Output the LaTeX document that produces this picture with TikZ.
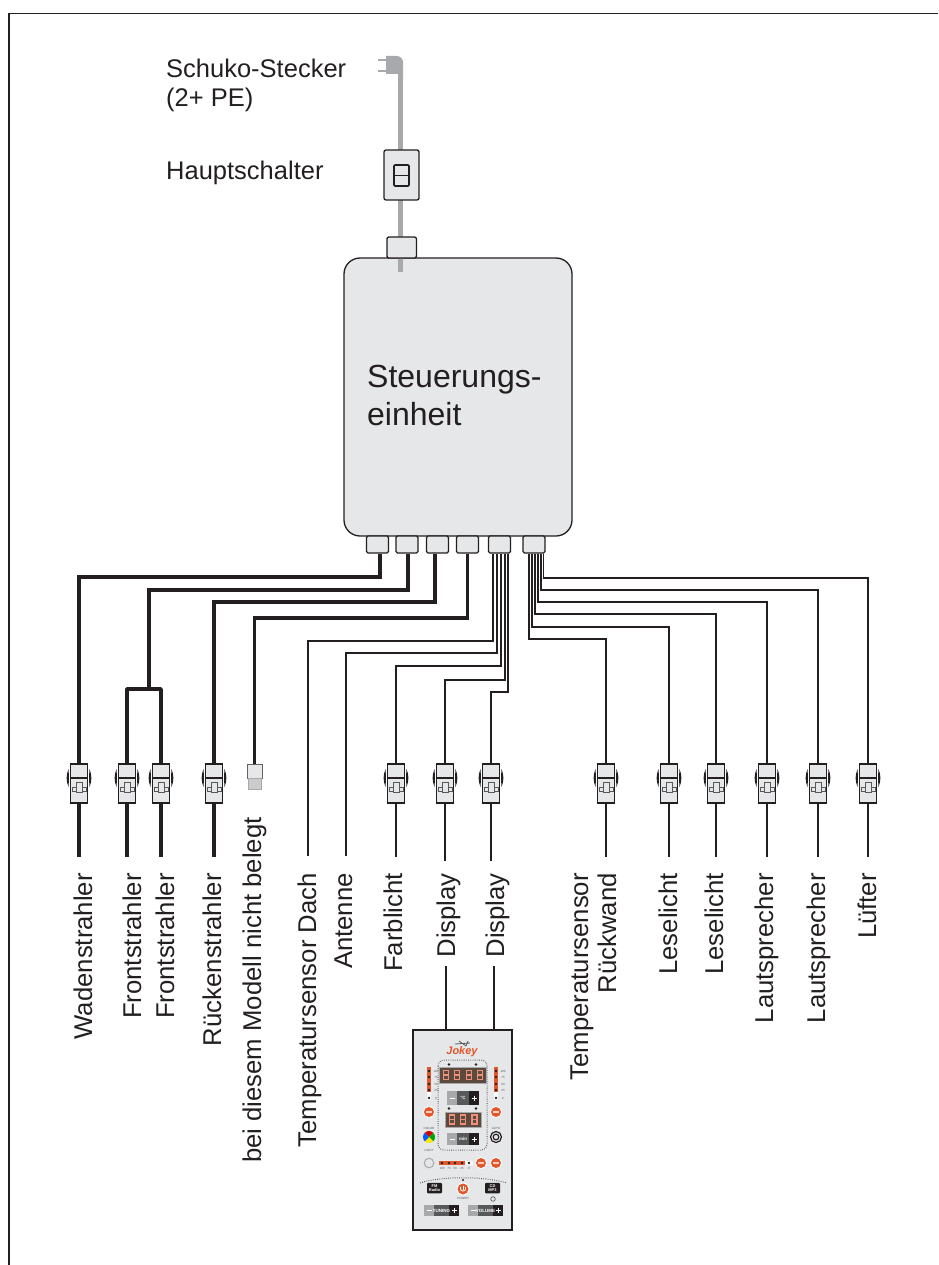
\documentclass[tikz,border=0pt]{standalone}
\usepackage{fontspec}
\setmainfont{Liberation Sans}
\definecolor{ink}{HTML}{231F20}
\definecolor{paneL}{HTML}{E6E7E8}
\definecolor{cord}{HTML}{A7A9AC}
\definecolor{midg}{HTML}{58595B}
\definecolor{orng}{HTML}{E2572B}
\definecolor{dispbg}{HTML}{5C4A3E}
\definecolor{segc}{HTML}{F0907A}
\tikzset{
 every node/.append style={text=ink},
 boxy/.style={draw=ink,fill=paneL,line width=1.3pt,inner sep=0pt},
 portbox/.style={boxy,rectangle,rounded corners=1.5pt,minimum width=22pt,minimum height=17pt},
 connbox/.style={draw=ink,fill=paneL,line width=1.1pt,inner sep=0pt,minimum width=17pt,minimum height=39pt},
 heavy/.style={draw=ink,line width=3.6pt},
 lightw/.style={draw=ink,line width=1.6pt},
 vlabel/.style={rotate=90,anchor=base east,inner sep=0pt,font=\fontsize{25.7}{28}\selectfont},
 hlabel/.style={anchor=base west,inner sep=0pt,font=\fontsize{25.5}{29}\selectfont},
 wee/.style={inner sep=0pt,font=\fontsize{3}{3.5}\selectfont,text=midg},
 btnlabel/.style={inner sep=0pt,text=white},
 disp/.style={fill=dispbg,draw=cord,line width=.8pt},
 seg/.style={draw=segc,line width=1.1pt},
 dotrow/.style={draw=midg,line width=1pt,dash pattern=on .8pt off 1.4pt},
}
\newcommand{\conn}[2]{%
 \node[connbox] (#1) at (#2,783.5) {};
 \draw[ink,line width=1.1pt] (#1.west |- 0,778) -- (#1.east |- 0,778);
 \draw[midg,fill=paneL,line width=.7pt] (#2-7,787) rectangle (#2+7,791);
 \draw[midg,fill=paneL,line width=.7pt] (#2-3,782) rectangle (#2+3,792);
 \fill[ink] (#2-10.5,769) .. controls (#2-13,775) and (#2-13,781) .. (#2-10.5,787) .. controls (#2-10,781) and (#2-10,775) .. cycle;
 \fill[ink] (#2+10.5,769) .. controls (#2+13,775) and (#2+13,781) .. (#2+10.5,787) .. controls (#2+10,781) and (#2+10,775) .. cycle;
}
\newcommand{\digit}[2]{%
 \draw[seg] (#1-2.5,#2-4.5) rectangle (#1+2.5,#2+4.5);
 \draw[seg] (#1-2.5,#2) -- (#1+2.5,#2);
}
\newcommand{\trio}[5]{% x, y top, height, middle text, width
 \fill[cord] (#1,#2) rectangle (#1+10,#2+#3);
 \fill[midg] (#1+10,#2) rectangle (#1+#5-10,#2+#3);
 \fill[ink] (#1+#5-10,#2) rectangle (#1+#5,#2+#3);
 \draw[white,line width=1pt] (#1+2.5,#2+#3/2) -- (#1+7.5,#2+#3/2);
 \draw[white,line width=1pt] (#1+#5-7.5,#2+#3/2) -- (#1+#5-2.5,#2+#3/2) (#1+#5-5,#2+#3/2-2.5) -- (#1+#5-5,#2+#3/2+2.5);
 \node[btnlabel,font=\fontsize{4.5}{5}\bfseries\selectfont] at (#1+#5/2,#2+#3/2) {#4};
}
\begin{document}
\begin{tikzpicture}[x=1pt,y=-1pt]
\useasboundingbox (0,0) rectangle (938,1265);
\draw[ink,line width=1.4pt] (938,13.5) -- (9,13.5) -- (9,1265);

% main unit
\node[boxy,rounded corners=16pt,minimum width=228pt,minimum height=278pt] (main) at (458,397) {};
\node[anchor=west,inner sep=0pt,align=left,font=\fontsize{32}{38}\selectfont] (mainlabel) at (367,395) {Steuerungs-\\einheit};

% mains cord
\draw[fill=cord,draw=none] (386,56) -- (397,56) .. controls (400,56) and (403,59) .. (403,62) -- (403,81) -- (398,81) -- (398,74) -- (386,74) -- cycle;
\coordinate (plug) at (400.5,81);
\draw[cord,line width=1.3pt] (378,60) -- (386,60) (378,71) -- (386,71);
\coordinate (cordend) at (400.5,272);
\draw[cord,line width=5pt] (plug) -- (cordend);
\node[boxy,rounded corners=2pt,minimum width=35pt,minimum height=50pt] (switch) at (401.5,175) {};
\node[draw=ink,line width=1.6pt,rounded corners=1pt,minimum width=15pt,minimum height=21pt,inner sep=0pt] (rocker) at (401.5,175.5) {};
\draw[ink,line width=1.6pt] (rocker.west) -- (rocker.east);
\node[boxy,rectangle,rounded corners=2pt,minimum width=29.5pt,minimum height=21pt] (cap) at (401.7,247.5) {};
\node[hlabel] (schuko) at (166,78) {Schuko-Stecker};
\node[hlabel] (schukob) at (166,107) {(2+ PE)};
\node[hlabel] (haupt) at (166,180) {Hauptschalter};

% ports
\node[portbox] (p1) at (377.5,544.5) {};
\node[portbox] (p2) at (407,544.5) {};
\node[portbox] (p3) at (437.5,544.5) {};
\node[portbox] (p4) at (467.5,544.5) {};
\node[portbox] (p5) at (499.5,544.5) {};
\node[portbox] (p6) at (534,544.5) {};

% connectors
\conn{c1}{79}
\conn{c2}{127}
\conn{c3}{161}
\conn{c4}{214}
\node[draw=ink!70,fill=paneL,line width=1pt,inner sep=0pt,minimum width=15pt,minimum height=14pt] (c5) at (254.5,771) {};
\node[draw=cord,fill=cord!60,line width=.8pt,inner sep=0pt,minimum width=13pt,minimum height=11pt] (c5b) at (254.5,784) {};
\conn{c8}{396}
\conn{c9}{445}
\conn{c10}{491}
\conn{c11}{606}
\conn{c12}{669}
\conn{c13}{716}
\conn{c14}{767}
\conn{c15}{818}
\conn{c16}{868}

% heavy wires
\draw[heavy] ([xshift=2.5pt]p1.south) |- (c1.north |- 0,577) -- (c1.north);
\draw[heavy] ([xshift=1pt]p2.south) |- (149,590) coordinate (fork) -- (149,689) coordinate (forkb);
\draw[heavy,line join=round] (c2.north) |- (c3.north |- forkb) -- (c3.north);
\draw[heavy] ([xshift=-2.5pt]p3.south) |- (c4.north |- 0,602) -- (c4.north);
\draw[heavy] (p4.south) |- (c5.north |- 0,618) -- (c5.north);

% thin wires, left bundle
\coordinate (e6) at (308,856);
\coordinate (e7) at (346,856);
\draw[lightw] ([xshift=-6.5pt]p5.south) |- (e6 |- 0,641) -- (e6);
\draw[lightw] ([xshift=-2.5pt]p5.south) |- (e7 |- 0,653) -- (e7);
\draw[lightw] ([xshift=1.5pt]p5.south) |- (c8.north |- 0,666) -- (c8.north);
\draw[lightw] ([xshift=5.5pt]p5.south) |- (c9.north |- 0,680) -- (c9.north);
\draw[lightw] ([xshift=8.5pt]p5.south) |- (c10.north |- 0,692) -- (c10.north);

% thin wires, right bundle
\draw[lightw] ([xshift=-5pt]p6.south) |- (c11.north |- 0,639) -- (c11.north);
\draw[lightw] ([xshift=-2pt]p6.south) |- (c12.north |- 0,627) -- (c12.north);
\draw[lightw] ([xshift=1pt]p6.south) |- (c13.north |- 0,614) -- (c13.north);
\draw[lightw] ([xshift=4pt]p6.south) |- (c14.north |- 0,602) -- (c14.north);
\draw[lightw] ([xshift=7pt]p6.south) |- (c15.north |- 0,590) -- (c15.north);
\draw[lightw] ([xshift=9.5pt]p6.south) |- (c16.north |- 0,578) -- (c16.north);

% tails below the connectors
\draw[heavy] (c1.south) -- ++(0,53) coordinate (t1);
\draw[heavy] (c2.south) -- ++(0,53) coordinate (t2);
\draw[heavy] (c3.south) -- ++(0,53) coordinate (t3);
\draw[heavy] (c4.south) -- ++(0,53) coordinate (t4);
\foreach \n in {c8,c11,c12,c13,c14,c15,c16}{
 \draw[lightw] (\n.south) -- ++(0,53);
}
\foreach \n in {c9,c10}{
 \draw[lightw] (\n.south) -- ++(0,57);
}

% labels
\node[vlabel] (l1) at (92,873) {Wadenstrahler};
\node[vlabel] (l2) at (141,873) {Frontstrahler};
\node[vlabel] (l3) at (174,873) {Frontstrahler};
\node[vlabel] (l4) at (221,873) {Rückenstrahler};
\node[vlabel] (l5) at (261,817) {bei diesem Modell nicht belegt};
\node[vlabel] (l6) at (316,873) {Temperatursensor Dach};
\node[vlabel] (l7) at (352,873) {Antenne};
\node[vlabel] (l8) at (402,873) {Farblicht};
\node[vlabel] (l9) at (455,873) {Display};
\node[vlabel] (l10) at (504,873) {Display};
\node[vlabel] (l11) at (588,873) {Temperatursensor};
\node[vlabel] (l11b) at (616,873) {Rückwand};
\node[vlabel] (l12) at (677,873) {Leselicht};
\node[vlabel] (l13) at (723,873) {Leselicht};
\node[vlabel] (l14) at (773,873) {Lautsprecher};
\node[vlabel] (l15) at (825,873) {Lautsprecher};
\node[vlabel] (l16) at (876,873) {Lüfter};

% display panel
\node[draw=ink,fill=paneL,line width=1.2pt,inner sep=0pt,minimum width=99pt,minimum height=200pt] (panel) at (462.5,1130) {};
\coordinate (d1) at (446,966);
\coordinate (d2) at (494,966);
\draw[lightw] (d1) -- (d1 |- panel.north);
\draw[lightw] (d2) -- (d2 |- panel.north);

\node[inner sep=0pt,text=orng,font=\fontsize{11}{12}\bfseries\itshape\selectfont] (logo) at (462,1052) {Jokey};
\draw[midg,line width=.8pt] (455,1044) -- (470,1043) (459,1041) -- (466,1046) (468,1041) -- (466,1046);
\draw[dotrow,rounded corners=6pt] (438,1060) rectangle (487,1150);

% top display
\fill[ink] (449,1064.5) circle (1.4) (476,1064.5) circle (1.4);
\filldraw[disp] (439.5,1067) rectangle (486,1083);
\digit{446}{1075}\digit{457}{1075}\digit{469}{1075}\digit{480}{1075}
\trio{447}{1091}{14}{°C}{32}
% second display
\fill[ink] (449,1108.5) circle (1.4) (476,1108.5) circle (1.4);
\filldraw[disp] (445,1112) rectangle (481,1127);
\digit{452}{1119.5}\digit{463}{1119.5}\digit{474.5}{1119.5}
\trio{447}{1133}{12}{min}{32}

% level bars
\fill[white] (427,1067) rectangle (431,1100);
\fill[white] (494,1067) rectangle (498,1100);
\fill[orng] (427,1067) rectangle (431,1092);
\fill[orng] (494,1067) rectangle (498,1092);
\foreach \x in {429,496}{
 \foreach \y in {1071,1077,1084,1090,1098}{\fill[ink] (\x,\y) circle (1.3);}
 \fill[white] (\x,1112) circle (5.8);
 \fill[orng] (\x,1112) circle (5);
 \fill[white!70!orng] (\x-3,1111) rectangle (\x+3,1113);
}
\foreach \y/\t in {1071/100,1077/75,1084/50,1090/25,1098/0}{
 \node[wee] at (436,\y) {\t};
 \node[wee] at (503,\y) {\t};
}
% colour wheel
\begin{scope}
 \clip (429,1137) circle (6);
 \fill[red!85!black] (429,1137) -- (421,1129) -- (437,1129) -- cycle;
 \fill[green!65!black] (429,1137) -- (437,1129) -- (437,1145) -- cycle;
 \fill[yellow!90!orange] (429,1137) -- (437,1145) -- (421,1145) -- cycle;
 \fill[blue!65!cyan] (429,1137) -- (421,1145) -- (421,1129) -- cycle;
\end{scope}
\node[wee] at (429,1128) {COLOR};
\node[wee] at (429,1150) {LIGHT};
% knob
\draw[ink,line width=1.2pt] (496,1137) circle (5.5) (496,1137) circle (2.8);
\node[wee] at (496,1128) {AUTO};

% lower row
\draw[cord,line width=1pt,fill=paneL] (429,1163) circle (4.8);
\fill[white] (439,1161) rectangle (473,1165);
\fill[orng] (439,1161) rectangle (465,1165);
\foreach \x in {442,449,455,462,469}{\fill[ink] (\x,1163) circle (1.3);}
\foreach \x/\t in {442/100,449/75,455/50,462/25,469/0}{\node[wee] at (\x,1168.5) {\t};}
\foreach \x in {481,496}{
 \fill[white] (\x,1163) circle (5.8);
 \fill[orng] (\x,1163) circle (5);
 \fill[white!70!orng] (\x-3,1162) rectangle (\x+3,1164);
}
\draw[dotrow] (420,1183) .. controls (440,1176) and (485,1176) .. (507,1183);
\node[fill=ink,rounded corners=1pt,minimum width=15pt,minimum height=10.5pt,inner sep=0pt,btnlabel,align=center,font=\fontsize{4}{4.6}\bfseries\selectfont] (fm) at (434.5,1188) {FM\\Radio};
\node[fill=ink,rounded corners=1pt,minimum width=15pt,minimum height=10.5pt,inner sep=0pt,btnlabel,align=center,font=\fontsize{4}{4.6}\bfseries\selectfont] (cd) at (492.5,1188) {CD\\MP3};
\fill[white] (463,1189) circle (6.3);
\fill[orng] (463,1189) circle (5.5);
\draw[white,line width=.8pt] (463,1185.5) -- (463,1189.5);
\draw[white,line width=.8pt] (460.5,1187) .. controls (458.5,1192.5) and (467.5,1192.5) .. (465.5,1187);
\fill[ink] (463,1180) circle (1.2);
\node[wee] at (463,1198) {POWER};
\draw[midg,line width=.7pt] (493,1199) circle (2.3);
\trio{424}{1205}{11}{TUNING}{35}
\trio{468}{1205}{11}{VOLUME}{35}
\end{tikzpicture}
\end{document}
